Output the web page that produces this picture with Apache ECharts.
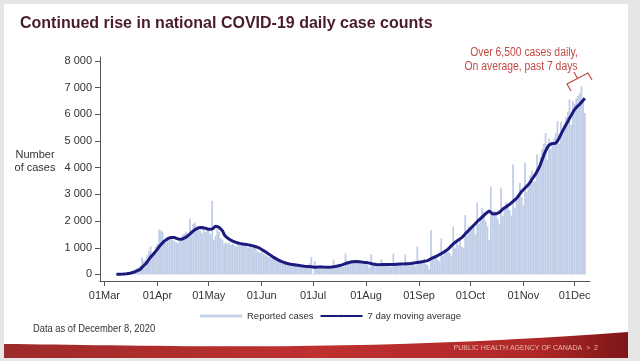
<!DOCTYPE html>
<html><head><meta charset="utf-8">
<script src="https://cdn.jsdelivr.net/npm/echarts@6/dist/echarts.min.js"></script>
<style>
html,body{margin:0;padding:0;background:#e6e6e6;width:640px;height:361px;overflow:hidden;}
#slide{position:absolute;left:4px;top:4px;width:624px;height:354px;background:#ffffff;}
#band{position:absolute;left:0;top:0;width:640px;height:361px;}
#c{position:absolute;left:0;top:0;width:640px;height:361px;}
</style>
</head><body><div id="slide"></div>
<svg id="band" width="640" height="361" viewBox="0 0 640 361">
  <defs>
    <linearGradient id="g" x1="0" y1="0" x2="1" y2="0">
      <stop offset="0" stop-color="#9d2a2a"/>
      <stop offset="0.5" stop-color="#bf302f"/>
      <stop offset="0.85" stop-color="#b02828"/>
      <stop offset="1" stop-color="#7e1618"/>
    </linearGradient>
  </defs>
  <path d="M4,344 C150,345 350,353 628,332 L628,358 L4,358 Z" fill="url(#g)"/>
</svg>
<div id="c"></div>
<script>
// Day index 0 = 01 Mar 2020
const monthDays = [0, 31, 61, 92, 122, 153, 184, 214, 245, 275];
const monthLabels = ['01Mar','01Apr','01May','01Jun','01Jul','01Aug','01Sep','01Oct','01Nov','01Dec'];
const yTicks = [0, 1000, 2000, 3000, 4000, 5000, 6000, 7000, 8000];
const yTickLabels = ['0','1 000','2 000','3 000','4 000','5 000','6 000','7 000','8 000'];
const seriesNames = ['Reported cases', '7 day moving average'];
const titleText = 'Continued rise in national COVID-19 daily case counts';
const yAxisTitle = 'Number\nof cases';
const noteText = 'Data as of December 8, 2020';
const annotationLines = ['Over 6,500 cases daily,', 'On average, past 7 days'];
const footerText = 'PUBLIC HEALTH AGENCY OF CANADA  >  2';

// Reported daily cases, 01 Mar -> 07 Dec
const reported = [
  2, 3, 3, 4, 6, 5, 8,
  10, 15, 12, 25, 30, 40, 50,
  60, 80, 110, 130, 190, 230, 270,
  330, 640, 520, 560, 720, 880, 1050,
  700, 760, 1050, 1150, 1680, 1650, 1600,
  1250, 1200, 1330, 1420, 1380, 1300, 1250,
  1200, 1180, 1300, 1350, 1500, 1550, 1600,
  1500, 2100, 1600, 1900, 1950, 1800, 1750,
  1650, 1550, 1700, 1600, 1750, 1680, 1500,
  2760, 1300, 1450, 1700, 1600, 1350, 1300,
  1150, 1200, 1150, 1200, 1100, 1150, 1100,
  1050, 1250, 1100, 1150, 1100, 1150, 1050,
  1000, 1150, 1050, 1100, 1050, 900, 850,
  800, 900, 750, 750, 700, 650, 650,
  600, 650, 550, 500, 550, 450, 450,
  420, 450, 350, 380, 400, 350, 340,
  330, 400, 300, 330, 320, 310, 280,
  250, 420, 660, 20, 500, 280, 230,
  200, 350, 300, 280, 320, 300, 250,
  230, 560, 300, 320, 350, 380, 300,
  280, 790, 450, 400, 500, 520, 420,
  380, 550, 480, 500, 520, 480, 400,
  350, 250, 750, 400, 380, 350, 300,
  270, 560, 350, 380, 370, 360, 300,
  280, 790, 330, 380, 370, 400, 320,
  300, 750, 380, 420, 400, 420, 350,
  320, 1040, 450, 480, 550, 600, 400,
  350, 200, 1660, 600, 650, 700, 550,
  500, 1350, 700, 900, 950, 870, 800,
  700, 1790, 1000, 1250, 1100, 1300, 1050,
  1000, 2225, 1450, 1800, 1800, 1700, 1800,
  1500, 2700, 1900, 2100, 2500, 2300, 2000,
  1800, 1300, 3300, 2200, 2400, 2300, 2100,
  1900, 3250, 2200, 2500, 2700, 2600, 2400,
  2200, 4125, 2500, 2800, 3000, 3440, 2900,
  2600, 4200, 3100, 3400, 3700, 3900, 3500,
  3500, 4500, 4100, 4400, 4700, 4900, 5300,
  4300, 5100, 4700, 4900, 5100, 5300, 5750,
  4900, 5700, 5300, 5600, 5900, 6100, 6560,
  5600, 6500, 6400, 6600, 6700, 6800, 7060,
  6500, 6050
];

// 7 day moving average, 01 Mar -> 07 Dec
const movingAvg = [
  null, null, null, null, null, null, null,
  6, 8, 10, 13, 17, 22, 29,
  37, 48, 63, 80, 103, 131, 160,
  191, 271, 330, 391, 467, 560, 650,
  720, 790, 860, 950, 1040, 1120, 1190,
  1250, 1300, 1340, 1370, 1390, 1400, 1385,
  1360, 1330, 1315, 1320, 1340, 1370, 1410,
  1460, 1520, 1580, 1630, 1680, 1720, 1750,
  1765, 1760, 1750, 1735, 1715, 1690, 1670,
  1700, 1770, 1810, 1800, 1770, 1720, 1640,
  1500, 1420, 1370, 1320, 1280, 1250, 1225,
  1200, 1180, 1165, 1150, 1140, 1130, 1120,
  1110, 1100, 1085, 1070, 1050, 1030, 1005,
  975, 940, 900, 860, 815, 770, 725,
  680, 640, 600, 565, 530, 500, 475,
  450, 430, 410, 395, 385, 375, 365,
  355, 345, 335, 325, 318, 310, 305,
  300, 298, 290, 275, 270, 272, 280,
  285, 282, 278, 275, 270, 268, 272,
  280, 290, 300, 312, 325, 340, 360,
  385, 410, 430, 450, 465, 475, 480,
  485, 483, 478, 470, 462, 455, 448,
  440, 425, 410, 395, 385, 375, 370,
  365, 368, 372, 375, 378, 376, 372,
  370, 375, 380, 385, 388, 390, 392,
  395, 400, 405, 410, 415, 420, 428,
  438, 450, 460, 470, 480, 490, 495,
  520, 560, 590, 620, 650, 680, 710,
  740, 780, 820, 860, 900, 950, 1010,
  1080, 1150, 1200, 1250, 1290, 1330, 1380,
  1450, 1520, 1590, 1650, 1720, 1780, 1850,
  1910, 1980, 2040, 2100, 2160, 2220, 2280,
  2350, 2380, 2320, 2270, 2260, 2275, 2290,
  2330, 2390, 2450, 2500, 2540, 2580, 2630,
  2690, 2740, 2790, 2850, 2930, 3020, 3110,
  3180, 3240, 3300, 3370, 3460, 3560, 3650,
  3750, 3860, 3980, 4120, 4300, 4480, 4620,
  4750, 4850, 4900, 4910, 4900, 4920, 5000,
  5120, 5250, 5380, 5500, 5620, 5730, 5850,
  5960, 6080, 6180, 6260, 6320, 6380, 6450,
  6530, 6600
];

const SANS = '"Liberation Sans", Arial, sans-serif';
const RED = '#c04a44';

const chart = echarts.init(document.getElementById('c'), null, {renderer: 'canvas'});
chart.setOption({
  animation: false,
  backgroundColor: 'transparent',
  grid: {left: 100, right: 50, top: 57, bottom: 80, containLabel: false},
  xAxis: {
    type: 'value', min: -2.6, max: 284,
    axisLine: {show: true, onZero: false, lineStyle: {color: '#555', width: 1}},
    axisTick: {show: true, customValues: monthDays, length: 5, lineStyle: {color: '#555'}},
    axisLabel: {show: true, customValues: monthDays, margin: 9, color: '#333', fontSize: 11, fontFamily: SANS,
      formatter: v => monthLabels[monthDays.indexOf(Math.round(v))]},
    splitLine: {show: false}
  },
  yAxis: {
    type: 'value', min: -245, max: 8150,
    axisLine: {show: true, onZero: false, lineStyle: {color: '#555', width: 1}},
    axisTick: {show: true, customValues: yTicks, length: 5, lineStyle: {color: '#555'}},
    axisLabel: {show: true, customValues: yTicks, margin: 8, color: '#333', fontSize: 11, fontFamily: SANS,
      formatter: v => yTickLabels[yTicks.indexOf(Math.round(v))]},
    splitLine: {show: false}
  },
  legend: {
    left: 195, top: 306, itemWidth: 42, itemHeight: 3, itemGap: 6,
    textStyle: {fontFamily: SANS, fontSize: 9.5, color: '#333'},
    data: [
      {name: seriesNames[0], icon: 'rect', itemStyle: {color: '#c6d2ea'}},
      {name: seriesNames[1]}
    ]
  },
  series: [
    {
      type: 'bar', name: seriesNames[0],
      data: reported.map((v, i) => [i, v]),
      barWidth: 1.8,
      itemStyle: {color: '#c0cee7'},
      z: 2
    },
    {
      type: 'line', name: seriesNames[1],
      data: movingAvg.map((v, i) => [i, v]),
      symbol: 'none', showSymbol: false, connectNulls: false,
      lineStyle: {color: '#1c1a7f', width: 3},
      itemStyle: {color: '#1c1a7f'},
      z: 3
    }
  ],
  graphic: [
    {type: 'text', x: 20, y: 24, style: {text: titleText, fill: '#4a1c2a', font: 'bold 16px ' + SANS, align: 'left', verticalAlign: 'middle'}},
    {type: 'text', x: 35, y: 161, style: {text: yAxisTitle, fill: '#333', font: '11px ' + SANS, align: 'center', verticalAlign: 'middle', lineHeight: 13}},
    {type: 'text', x: 524, y: 53, scaleX: 0.83, style: {text: annotationLines[0], fill: RED, font: '12.5px ' + SANS, align: 'center', verticalAlign: 'middle'}},
    {type: 'text', x: 521, y: 67, scaleX: 0.83, style: {text: annotationLines[1], fill: RED, font: '12.5px ' + SANS, align: 'center', verticalAlign: 'middle'}},
    {type: 'polyline', shape: {points: [[571, 91], [567, 84], [588, 73], [592, 80]]}, style: {stroke: RED, lineWidth: 1.2, fill: null}},
    {type: 'polyline', shape: {points: [[577.5, 78.5], [574, 72]]}, style: {stroke: RED, lineWidth: 1.2, fill: null}},
    {type: 'text', x: 33, y: 329, scaleX: 0.85, style: {text: noteText, fill: '#333', font: '11px ' + SANS, align: 'left', verticalAlign: 'middle'}},
    {type: 'text', x: 598, y: 348, style: {text: footerText, fill: '#e9b5b0', font: '7px ' + SANS, align: 'right', verticalAlign: 'middle'}}
  ]
});
</script>
</body></html>
